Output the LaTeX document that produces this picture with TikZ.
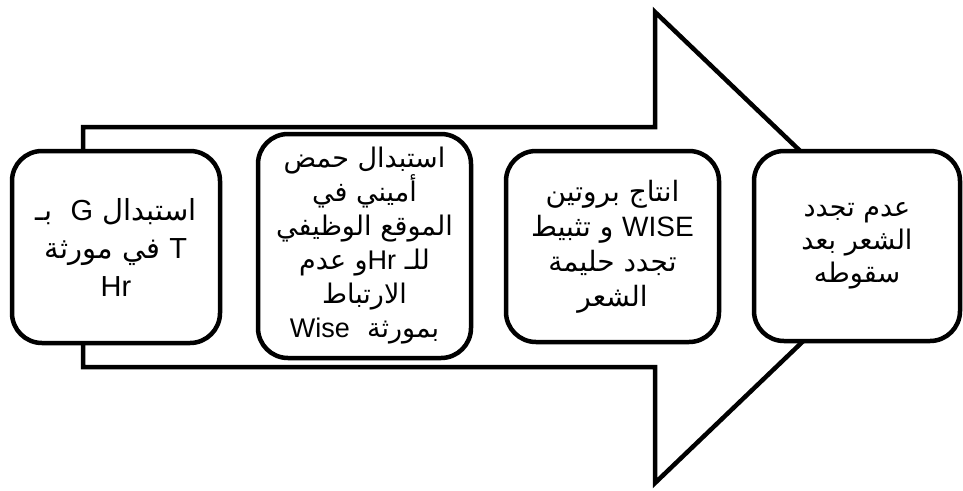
\documentclass[tikz,border=0pt]{standalone}
\usepackage{fontspec}
\setmainfont{Liberation Sans}
\newfontfamily\arabicfont[Script=Arabic]{DejaVu Sans}
\newfontfamily\latinfont{Liberation Sans}
\TeXXeTstate=1
\newcommand\myL[1]{\beginL{\latinfont #1}\endL}
\begin{document}
\begin{tikzpicture}[x=1pt,y=-1pt]
\tikzset{
  box/.style={draw=black, line width=4.5pt, rounded corners=30pt, fill=white,
    align=center, inner sep=0pt, outer sep=0pt},
  bigarrow/.style={draw=black, line width=4.5pt, fill=white, line join=miter}
}
\fill[white] (0,0) rectangle (963,490);
\useasboundingbox (0,0) rectangle (963,490);
% big arrow
\draw[bigarrow] (83,127) -- (655,127) -- (655,12) -- (901,247.5) -- (655,483) -- (655,367) -- (83,367) -- cycle;
% boxes
\node[box, minimum width=208pt, minimum height=192pt,
  font=\arabicfont\fontsize{29}{38}\selectfont] (b1) at (116,247)
  {\beginR استبدال \myL{G}\ \ بـ\endR\\
   \beginR\myL{T} في مورثة\endR\\
   \myL{Hr}};
\node[box, minimum width=213pt, minimum height=224pt,
  font=\arabicfont\fontsize{27}{34}\selectfont] (b2) at (364.5,246)
  {\beginR استبدال حمض\endR\\
   \beginR أميني في\endR\\
   \beginR الموقع الوظيفي\endR\\
   \beginR للـ \myL{Hr}و عدم\endR\\
   \beginR الارتباط\endR\\
   \beginR بمورثة\ \ \myL{Wise}\endR};
\node[box, minimum width=213pt, minimum height=191pt,
  font=\arabicfont\fontsize{28}{35}\selectfont] (b3) at (612.5,246.5)
  {\beginR انتاج بروتين\endR\\
   \beginR\myL{WISE} و تثبيط\endR\\
   \beginR تجدد حليمة\endR\\
   \beginR الشعر\endR};
\node[box, minimum width=206pt, minimum height=190pt,
  font=\arabicfont\fontsize{27}{33}\selectfont] (b4) at (857,246)
  {\beginR عدم تجدد\endR\\
   \beginR الشعر بعد\endR\\
   \beginR سقوطه\endR};
\end{tikzpicture}
\end{document}
